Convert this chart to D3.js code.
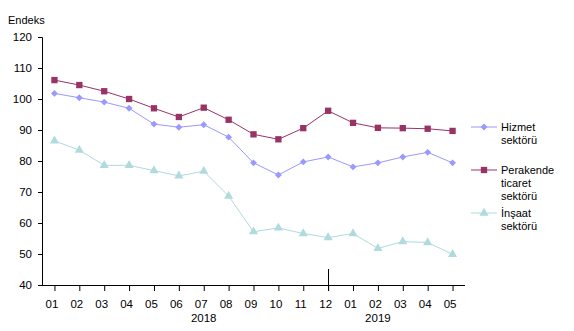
<!DOCTYPE html>
<html>
<head>
<meta charset="utf-8">
<script src="https://cdn.jsdelivr.net/npm/d3@7"></script>
<style>
  html, body { margin: 0; padding: 0; background: #fff; }
  svg { display: block; font-family: "Liberation Sans", Arial, sans-serif; }
</style>
</head>
<body>
<svg id="chart" width="574" height="331"></svg>
<script>
const categories = ["2018-01","2018-02","2018-03","2018-04","2018-05","2018-06","2018-07","2018-08","2018-09","2018-10","2018-11","2018-12","2019-01","2019-02","2019-03","2019-04","2019-05"];
const monthLabels = ["01","02","03","04","05","06","07","08","09","10","11","12","01","02","03","04","05"];
const yearLabels = ["2018","2019"];
const yearLabelAt = ["2018-07","2019-02"];
const yearSeparatorAt = ["2018-12"];
const hizmet = [101.8,100.4,99.0,97.0,91.9,90.9,91.7,87.7,79.4,75.5,79.7,81.3,78.1,79.4,81.3,82.8,79.4];
const perakende = [106.1,104.5,102.5,100.0,97.0,94.2,97.2,93.3,88.6,87.0,90.6,96.2,92.3,90.7,90.6,90.4,89.7];
const insaat = [86.5,83.5,78.6,78.6,76.9,75.2,76.7,68.7,57.2,58.4,56.6,55.3,56.6,51.8,54.0,53.7,49.9];
const yTicks = [40,50,60,70,80,90,100,110,120];
const seriesNames = [["Hizmet","sektörü"],["Perakende","ticaret","sektörü"],["İnşaat","sektörü"]];

const svg = d3.select("#chart");
const mLeft = 42, mRight = 465, mTop = 37, mBottom = 285;

const x = d3.scalePoint().domain(categories).range([mLeft, mRight]).padding(0.5);
const y = d3.scaleLinear().domain([40, 120]).range([mBottom, mTop]);

// Y axis
const yAxis = svg.append("g").attr("transform", `translate(${mLeft},0)`)
  .call(d3.axisLeft(y).tickValues(yTicks).tickSize(4).tickPadding(6).tickFormat(d3.format("d")));
yAxis.select(".domain").attr("stroke", "#000");
yAxis.selectAll(".tick line").attr("stroke", "#000");
yAxis.selectAll("text").attr("font-size", 11.5).attr("fill", "#000")
  .attr("font-family", "'Liberation Sans', Arial, sans-serif");

// X axis
const xAxis = svg.append("g").attr("transform", `translate(0,${mBottom})`)
  .call(d3.axisBottom(x).tickSize(6).tickSizeOuter(0).tickPadding(9)
    .tickFormat((d, i) => monthLabels[i]));
xAxis.select(".domain").attr("stroke", "#000").attr("d", `M${mLeft},0.5H${mRight}`);
xAxis.selectAll(".tick line").attr("stroke", "#000");
xAxis.selectAll("text").attr("font-size", 11.5).attr("fill", "#000").attr("dx", -3)
  .attr("font-family", "'Liberation Sans', Arial, sans-serif");

// year separator
yearSeparatorAt.forEach(c => {
  svg.append("line").attr("x1", x(c)).attr("x2", x(c))
    .attr("y1", mBottom - 16).attr("y2", mBottom + 6)
    .attr("stroke", "#000").attr("shape-rendering", "crispEdges");
});

// year labels
yearLabels.forEach((t, i) => {
  svg.append("text").attr("x", x(yearLabelAt[i])).attr("y", 321.5)
    .attr("text-anchor", "middle").attr("font-size", 11.5).attr("fill", "#000").text(t);
});

// Y title
svg.append("text").attr("x", 8).attr("y", 24).attr("font-size", 11).attr("fill", "#000").text("Endeks");

const line = d3.line().x((d, i) => x(categories[i])).y(d => y(d));

const series = [
  { data: hizmet, color: "#9999ff", marker: d3.symbolDiamond2, size: 30 },
  { data: perakende, color: "#993366", marker: d3.symbolSquare, size: 40 },
  { data: insaat, color: "#b0dadd", marker: d3.symbolTriangle, size: 36 }
];

series.forEach(s => {
  svg.append("path").datum(s.data).attr("d", line)
    .attr("fill", "none").attr("stroke", s.color).attr("stroke-width", 1);
  svg.append("g").selectAll("path").data(s.data).join("path")
    .attr("d", d3.symbol().type(s.marker).size(s.size))
    .attr("transform", (d, i) => `translate(${x(categories[i])},${y(d)})`)
    .attr("fill", s.color);
});

// Legend
const legendY = [127, 170, 213];
series.forEach((s, i) => {
  const g = svg.append("g").attr("transform", `translate(471,${legendY[i]})`);
  g.append("line").attr("x1", 0).attr("x2", 26).attr("y1", 0).attr("y2", 0)
    .attr("stroke", s.color).attr("stroke-width", 1);
  g.append("path").attr("d", d3.symbol().type(s.marker).size(s.size))
    .attr("transform", "translate(13,0)").attr("fill", s.color);
  seriesNames[i].forEach((t, j) => {
    g.append("text").attr("x", 30).attr("y", j * 13).attr("dy", "0.35em")
      .attr("font-size", 11).attr("fill", "#000").text(t);
  });
});
</script>
</body>
</html>
